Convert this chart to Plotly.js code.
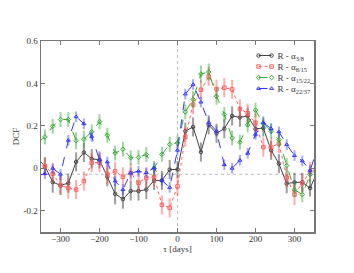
<!DOCTYPE html>
<html>
<head>
<meta charset="utf-8">
<script src="https://cdn.plot.ly/plotly-3.0.1.min.js"></script>
<style>html,body{margin:0;padding:0;background:#fff;}#chart{width:354px;height:273px;}</style>
</head>
<body>
<div id="chart"></div>
<script>
const tau = [-360,-340,-320,-300,-280,-260,-240,-220,-200,-180,-160,-140,-120,-100,-80,-60,-40,-20,0,20,40,60,80,100,120,140,160,180,200,220,240,260,280,300,320,340,360];

const dcf38 = [0.05,0.01,-0.065,-0.08,-0.07,0.03,0.075,0.045,0.04,-0.04,-0.12,-0.145,-0.107,-0.107,-0.1,-0.057,-0.057,-0.006,-0.005,0.175,0.195,0.077,0.205,0.165,0.187,0.247,0.24,0.247,0.186,0.19,0.085,0.022,-0.072,-0.066,-0.066,-0.093,-0.01];
const err38 = [0.04,0.04,0.05,0.045,0.045,0.045,0.045,0.045,0.04,0.045,0.05,0.045,0.045,0.045,0.045,0.045,0.045,0.045,0.04,0.04,0.045,0.045,0.045,0.045,0.045,0.045,0.045,0.04,0.04,0.04,0.045,0.045,0.045,0.045,0.045,0.04,0.04];

const dcf815 = [0.02,0.01,-0.025,-0.08,-0.093,-0.1,-0.06,0.027,0.027,-0.028,-0.014,-0.04,-0.022,-0.068,-0.044,-0.04,-0.172,-0.186,-0.085,0.148,0.3,0.37,0.433,0.373,0.38,0.372,0.28,0.26,0.214,0.1,0.1,0.117,-0.044,-0.123,-0.07,-0.015,0.0];
const err815 = [0.045,0.045,0.045,0.045,0.05,0.045,0.045,0.045,0.045,0.045,0.045,0.045,0.045,0.045,0.045,0.045,0.045,0.045,0.045,0.045,0.045,0.045,0.045,0.045,0.045,0.045,0.045,0.045,0.045,0.045,0.045,0.045,0.045,0.05,0.045,0.045,0.045];

const dcf1522 = [0.12,0.148,0.198,0.23,0.23,0.13,0.137,0.172,0.22,0.156,0.072,0.09,0.05,0.052,0.065,0.0,0.066,0.113,0.12,0.266,0.325,0.444,0.454,0.34,0.254,0.143,0.123,0.205,0.274,0.211,0.175,0.135,0.013,-0.1,-0.124,-0.03,0.0];
const err1522 = [0.035,0.035,0.035,0.035,0.035,0.04,0.04,0.035,0.035,0.035,0.035,0.035,0.035,0.035,0.035,0.035,0.035,0.035,0.035,0.035,0.04,0.04,0.04,0.04,0.035,0.035,0.035,0.035,0.035,0.035,0.035,0.035,0.035,0.035,0.035,0.035,0.035];

const dcf2237 = [-0.036,-0.025,0.0,-0.028,0.132,0.243,0.21,0.15,0.04,0.03,-0.06,-0.1,-0.022,-0.014,-0.02,0.002,-0.057,-0.09,0.085,0.35,0.395,0.312,0.216,0.175,0.017,0.0,0.038,0.071,0.16,0.215,0.187,0.172,0.112,0.06,0.035,-0.01,0.1];
const err2237 = [0.025,0.025,0.025,0.025,0.025,0.025,0.025,0.025,0.025,0.025,0.025,0.025,0.025,0.025,0.025,0.025,0.025,0.025,0.025,0.025,0.025,0.025,0.025,0.025,0.025,0.025,0.025,0.025,0.025,0.025,0.025,0.025,0.025,0.025,0.025,0.025,0.025];

const seriesNames = ['R - α<sub>3/8</sub>','R - α<sub>8/15</sub>','R - α<sub>15/22</sub>','R - α<sub>22/37</sub>'];
const xTicks = [-300,-200,-100,0,100,200,300];
const yTicks = [-0.2,0,0.2,0.4,0.6];
const yTickText = ['-0.2','0','0.2','0.4','0.6'];
const refX = [0];
const refY = [-0.028];

function mk(y, e, name, color, errColor, dash, symbol) {
  return {
    x: tau, y: y, name: name, type: 'scatter', mode: 'lines+markers',
    line: {color: color, width: 1, dash: dash},
    marker: {symbol: symbol, size: 3.5, color: color, line: {color: color, width: 1}},
    error_y: {type: 'data', array: e, visible: true, color: errColor, thickness: 2, width: 0},
    cliponaxis: true
  };
}

const traces = [
  mk(dcf38, err38, seriesNames[0], '#444444', 'rgba(60,60,60,0.5)', 'solid', 'circle-open'),
  mk(dcf815, err815, seriesNames[1], '#ff6060', 'rgba(255,70,70,0.45)', 'dot', 'square-open'),
  mk(dcf1522, err1522, seriesNames[2], '#33aa33', 'rgba(40,160,40,0.45)', 'dash', 'diamond-open'),
  mk(dcf2237, err2237, seriesNames[3], '#3333ff', 'rgba(60,60,255,0.45)', 'dash', 'triangle-up-open')
];

const fontFam = '"Liberation Serif", "Times New Roman", serif';
const layout = {
  width: 354, height: 273,
  margin: {l: 41, r: 40, t: 41, b: 41},
  paper_bgcolor: '#fff', plot_bgcolor: '#fff',
  showlegend: true,
  font: {family: fontFam, size: 9, color: '#333'},
  legend: {x: 0.72, y: 1.0, xanchor: 'left', yanchor: 'top', bgcolor: 'rgba(0,0,0,0)',
           font: {family: fontFam, size: 9, color: '#333'}, tracegroupgap: 0, itemwidth: 30},
  xaxis: {range: [-350, 350], tickvals: xTicks, ticks: 'inside', ticklen: 4, tickcolor: '#777',
          showline: true, linecolor: '#777', linewidth: 1.5, mirror: 'ticks', showgrid: false, zeroline: false,
          ticklabelstandoff: -2,
          title: {text: 'τ [days]', font: {family: fontFam, size: 9, color: '#333'}, standoff: 0},
          tickfont: {family: fontFam, size: 9, color: '#333'}},
  yaxis: {range: [-0.3, 0.6], tickvals: yTicks, ticktext: yTickText, ticks: 'inside', ticklen: 4, tickcolor: '#777',
          showline: true, linecolor: '#777', linewidth: 1.5, mirror: 'ticks', showgrid: false, zeroline: false,
          title: {text: 'DCF', font: {family: fontFam, size: 9, color: '#333'}, standoff: 2},
          tickfont: {family: fontFam, size: 9, color: '#333'}},
  shapes: [
    {type: 'line', xref: 'x', yref: 'paper', x0: refX[0], x1: refX[0], y0: 0, y1: 1, line: {color: '#bbb', width: 1, dash: 'dot'}, layer: 'below'},
    {type: 'line', xref: 'paper', yref: 'y', x0: 0, x1: 1, y0: refY[0], y1: refY[0], line: {color: '#bbb', width: 1, dash: 'dot'}, layer: 'below'}
  ]
};

Plotly.newPlot('chart', traces, layout, {staticPlot: true, displayModeBar: false}).then(function () {
  try {
    const items = document.querySelectorAll('#chart .legend .traces');
    if (!items.length) return;
    const m = /translate\(\s*([-\d.]+)[ ,]+([-\d.]+)\s*\)/.exec(items[0].getAttribute('transform') || '');
    const x0 = m ? parseFloat(m[1]) : 0;
    const y0 = m ? parseFloat(m[2]) : 0;
    items.forEach(function (g, i) {
      g.setAttribute('transform', 'translate(' + x0 + ',' + (y0 + i * 11) + ')');
      const line = g.querySelector('.legendlines path');
      if (line) line.setAttribute('d', 'M21,0h13');
      const pts = g.querySelectorAll('.legendpoints path');
      pts.forEach(function (p) { p.setAttribute('transform', 'translate(21,0)'); });
      const first = pts[0];
      if (first) {
        const c = first.cloneNode(true);
        c.setAttribute('transform', 'translate(34,0)');
        first.parentNode.appendChild(c);
      }
    });
  } catch (e) {}
});
</script>
</body>
</html>
